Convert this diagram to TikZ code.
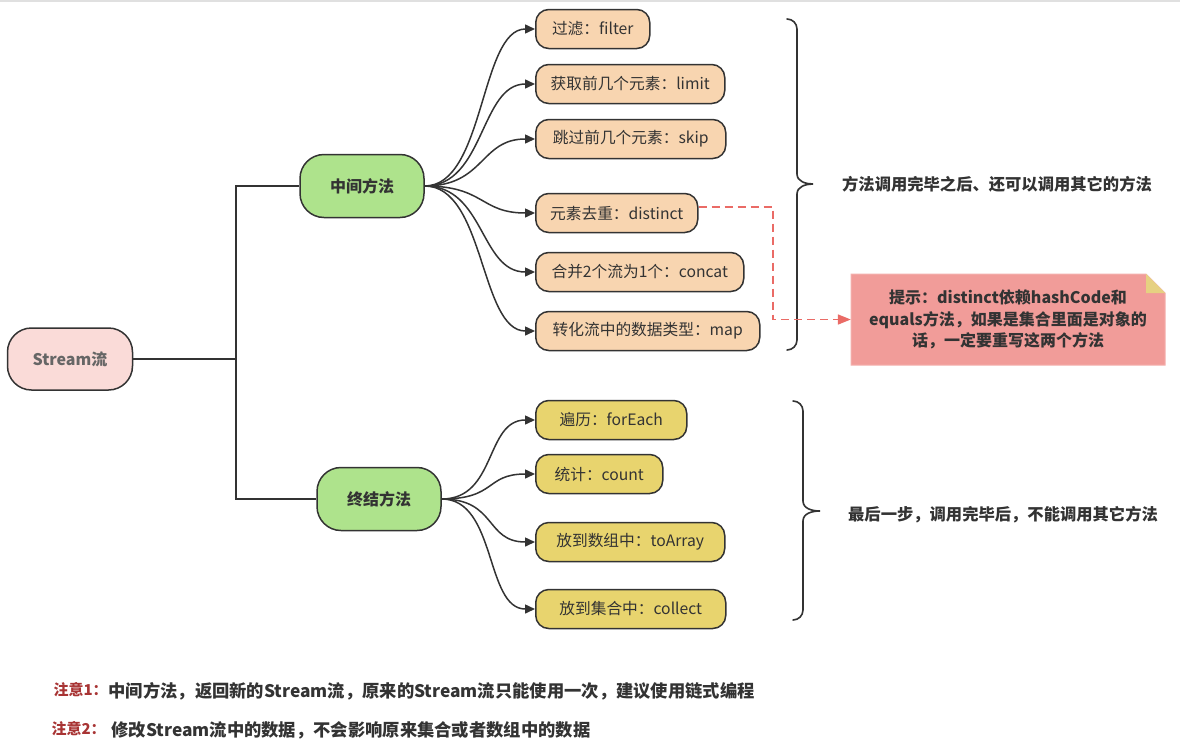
\documentclass[tikz,border=0pt]{standalone}
\usepackage{fontspec}
\setmainfont{Noto Sans CJK SC}
\usetikzlibrary{arrows.meta,calc}
\definecolor{linec}{HTML}{333333}
\definecolor{rootfill}{HTML}{FADBD8}
\definecolor{greenfill}{HTML}{AEE38C}
\definecolor{orangefill}{HTML}{F8D5B0}
\definecolor{yellowfill}{HTML}{E8D46E}
\definecolor{notefill}{HTML}{F19C99}
\definecolor{foldfill}{HTML}{E6D181}
\definecolor{dashred}{HTML}{EA6B66}
\definecolor{warnred}{HTML}{A83434}
\definecolor{txtdark}{HTML}{333333}
\tikzset{
  box/.style={draw=linec, line width=1.5pt, text=txtdark, inner sep=0pt, align=center},
  rootbox/.style={box, fill=rootfill, rounded corners=24pt, minimum width=125pt, minimum height=62pt,
    font=\fontsize{16}{19}\selectfont\bfseries, text=black!60},
  midbox/.style={box, fill=greenfill, rounded corners=24pt, minimum width=124pt, minimum height=63pt,
    font=\fontsize{16}{19}\selectfont\bfseries},
  leaf/.style={box, anchor=west, rounded corners=13pt, minimum height=39pt, font=\fontsize{15.7}{18}\selectfont},
  oleaf/.style={leaf, fill=orangefill},
  yleaf/.style={leaf, fill=yellowfill},
  conn/.style={draw=linec, line width=1.5pt},
  curvarrow/.style={conn, -{Triangle[length=10pt,width=9pt]}},
  bracepath/.style={draw=linec, line width=1.6pt, line cap=round},
  bracetext/.style={font=\fontsize{16.3}{19}\selectfont\bfseries, text=txtdark},
  warn/.style={anchor=west, font=\fontsize{15}{18}\selectfont\bfseries, text=warnred},
  warntext/.style={anchor=west, font=\fontsize{17.3}{20}\selectfont\bfseries, text=txtdark}
}
\begin{document}
\begin{tikzpicture}[x=1pt,y=-1pt]
\useasboundingbox (0,0) rectangle (1180,750);
\fill[white] (0,0) rectangle (1180,750);
\draw[black!12, line width=1.5pt] (0,0.8) -- (1180,0.8);

% main nodes
\node[rootbox] (root) at (70,359) {Stream流};
\node[midbox] (mid) at (362,186) {中间方法};
\node[midbox] (fin) at (379,499) {终结方法};

\coordinate (trunk) at (236,359);
\draw[conn] (root.east) -- (trunk);
\draw[conn] (trunk) |- (mid.west);
\draw[conn] (trunk) |- (fin.west);

% intermediate leaves
\node[oleaf, minimum width=114pt] (filter) at (535,29) {过滤：filter};
\node[oleaf, minimum width=189pt] (limit) at (535,84) {获取前几个元素：limit};
\node[oleaf, minimum width=190pt] (skip) at (535,139) {跳过前几个元素：skip};
\node[oleaf, minimum width=162pt] (distinct) at (535,213) {元素去重：distinct};
\node[oleaf, minimum width=208pt] (concat) at (535,272) {合并2个流为1个：concat};
\node[oleaf, minimum width=224pt] (map) at (535,331) {转化流中的数据类型：map};

% terminal leaves
\node[yleaf, minimum width=151pt] (foreach) at (535,420) {遍历：forEach};
\node[yleaf, minimum width=127pt] (count) at (535,474) {统计：count};
\node[yleaf, minimum width=189pt] (toarray) at (535,542) {放到数组中：toArray};
\node[yleaf, minimum width=190pt] (collect) at (535,609) {放到集合中：collect};

\foreach \t in {filter,limit,skip,distinct,concat,map}{
  \draw[curvarrow] (mid.east) .. controls ($(mid.east)+(60,0)$) and ($(\t.west)+(-55,0)$) .. (\t.west);
}
\foreach \t in {foreach,count,toarray,collect}{
  \draw[curvarrow] (fin.east) .. controls ($(fin.east)+(55,0)$) and ($(\t.west)+(-50,0)$) .. (\t.west);
}

% braces
\coordinate (b1top) at (787,19);
\coordinate (b1tip) at (813,184);
\coordinate (b1bot) at (787,350);
\draw[bracepath] (b1top) to[out=0,in=90] (797,29) -- (797,174) to[out=-90,in=180] (b1tip)
  to[out=180,in=90] (797,194) -- (797,340) to[out=-90,in=0] (b1bot);
\coordinate (b2top) at (793,401);
\coordinate (b2tip) at (820,511);
\coordinate (b2bot) at (793,620);
\draw[bracepath] (b2top) to[out=0,in=90] (803,411) -- (803,501) to[out=-90,in=180] (b2tip)
  to[out=180,in=90] (803,521) -- (803,610) to[out=-90,in=0] (b2bot);

\node[bracetext] (t1) at (997,184) {方法调用完毕之后、还可以调用其它的方法};
\node[bracetext] (t2) at (1003,515) {最后一步，调用完毕后，不能调用其它方法};

% note
\fill[notefill] (851,274) -- (1146,274) -- (1165,293) -- (1165,365) -- (851,365) -- cycle;
\draw[notefill!80!white, line width=1pt] (851,274) -- (1146,274) -- (1165,293) -- (1165,365) -- (851,365) -- cycle;
\fill[foldfill] (1146,274) -- (1165,293) -- (1146,293) -- cycle;
\node[font=\fontsize{16}{21.5}\selectfont\bfseries, text=txtdark, align=center, minimum width=314pt, minimum height=91pt, inner sep=0pt]
  (note) at (1008,319.5) {提示：distinct依赖hashCode和\\equals方法，如果是集合里面是对象的\\话，一定要重写这两个方法};

% dashed hint connector
\coordinate (dstart) at ($(distinct.east)+(0,-6)$);
\coordinate (dturn) at (773,0);
\draw[draw=dashred, line width=1.7pt, dash pattern=on 8pt off 5pt, -{Triangle[length=13pt,width=10pt]}]
  (dstart) -- (dstart -| dturn) -- (dturn |- note.west) -- (note.west);

% bottom notes
\node[warn] (w1) at (50,690) {注意1：};
\node[warntext] (w1t) at (105,691) {中间方法，返回新的Stream流，原来的Stream流只能使用一次，建议使用链式编程};
\node[warn] (w2) at (48,729) {注意2：};
\node[warntext] (w2t) at (108,730) {修改Stream流中的数据，不会影响原来集合或者数组中的数据};
\end{tikzpicture}
\end{document}
